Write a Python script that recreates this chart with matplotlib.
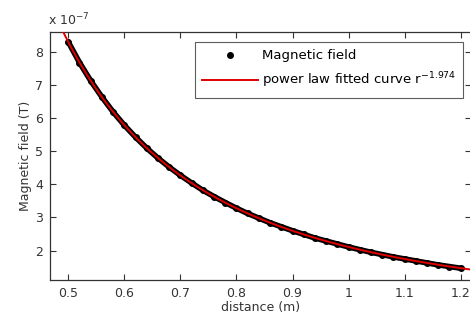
import numpy as np
import matplotlib
matplotlib.use("Agg")
import matplotlib.pyplot as plt
from matplotlib.lines import Line2D

# Measured data (units of 1e-7 T)
distance = [0.50, 0.52, 0.54, 0.56, 0.58, 0.60, 0.62, 0.64, 0.66, 0.68,
            0.70, 0.72, 0.74, 0.76, 0.78, 0.80, 0.82, 0.84, 0.86, 0.88,
            0.90, 0.92, 0.94, 0.96, 0.98, 1.00, 1.02, 1.04, 1.06, 1.08,
            1.10, 1.12, 1.14, 1.16, 1.18, 1.20]
field = [8.29, 7.67, 7.12, 6.63, 6.18, 5.78, 5.42, 5.09, 4.79, 4.52,
         4.27, 4.04, 3.82, 3.63, 3.45, 3.28, 3.12, 2.98, 2.84, 2.72,
         2.60, 2.49, 2.38, 2.29, 2.20, 2.11, 2.03, 1.95, 1.88, 1.81,
         1.75, 1.69, 1.63, 1.57, 1.52, 1.47]

# Power-law fit parameters
fit_coef = 2.11
fit_exp = -1.974
fit_r = np.linspace(0.48, 1.23, 300)
fit_b = fit_coef * fit_r ** fit_exp

xticks = [0.5, 0.6, 0.7, 0.8, 0.9, 1.0, 1.1, 1.2]
xticklabels = ["0.5", "0.6", "0.7", "0.8", "0.9", "1", "1.1", "1.2"]
yticks = [2, 3, 4, 5, 6, 7, 8]

plt.rcParams['font.family'] = ['DejaVu Sans']
fig = plt.figure(figsize=(4.7, 3.2), dpi=100)
ax = fig.add_axes([50/470, 1-280/320, (471-50)/470, (280-32)/320])

txtc = '#333333'
ax.plot(distance, field, color='black', lw=4.0, solid_capstyle='round', zorder=2)
ax.plot(distance, field, 'o', color='black', ms=4, zorder=2)
ax.plot(fit_r, fit_b, color='#e00000', lw=1.4, zorder=3)

ax.set_xlim(0.4674, 1.2184)
ax.set_ylim(1.115, 8.59)
ax.set_xticks(xticks)
ax.set_xticklabels(xticklabels)
ax.set_yticks(yticks)
ax.tick_params(direction='in', top=True, right=True, length=4, width=0.8,
               labelsize=9, colors='#333333', labelcolor=txtc, pad=5)
for s in ax.spines.values():
    s.set_color('#333333')
    s.set_linewidth(0.9)

ax.set_xlabel('distance (m)', fontsize=9, color=txtc, labelpad=1)
ax.set_ylabel('Magnetic field (T)', fontsize=9, color=txtc, labelpad=2)
fig.text(48/470, 1-20/320, 'x 10$^{-7}$', fontsize=9, color=txtc,
         ha='left', va='center')

handles = [Line2D([], [], color='black', marker='o', ms=4, ls='none'),
           Line2D([], [], color='#e00000', lw=1.4)]
leg = ax.legend(handles, ['Magnetic field', 'power law fitted curve r$^{-1.974}$'],
                loc='upper left', bbox_to_anchor=((195-50)/421, 1-(42-32)/248),
                fontsize=9.5, frameon=True, fancybox=False, handlelength=4.2,
                borderpad=0.55, labelspacing=0.65, handletextpad=0.3,
                borderaxespad=0)
leg.get_frame().set_edgecolor('#333333')
leg.get_frame().set_linewidth(0.8)
for t in leg.get_texts():
    t.set_color('black')

fig.savefig('out.png', dpi=100)
